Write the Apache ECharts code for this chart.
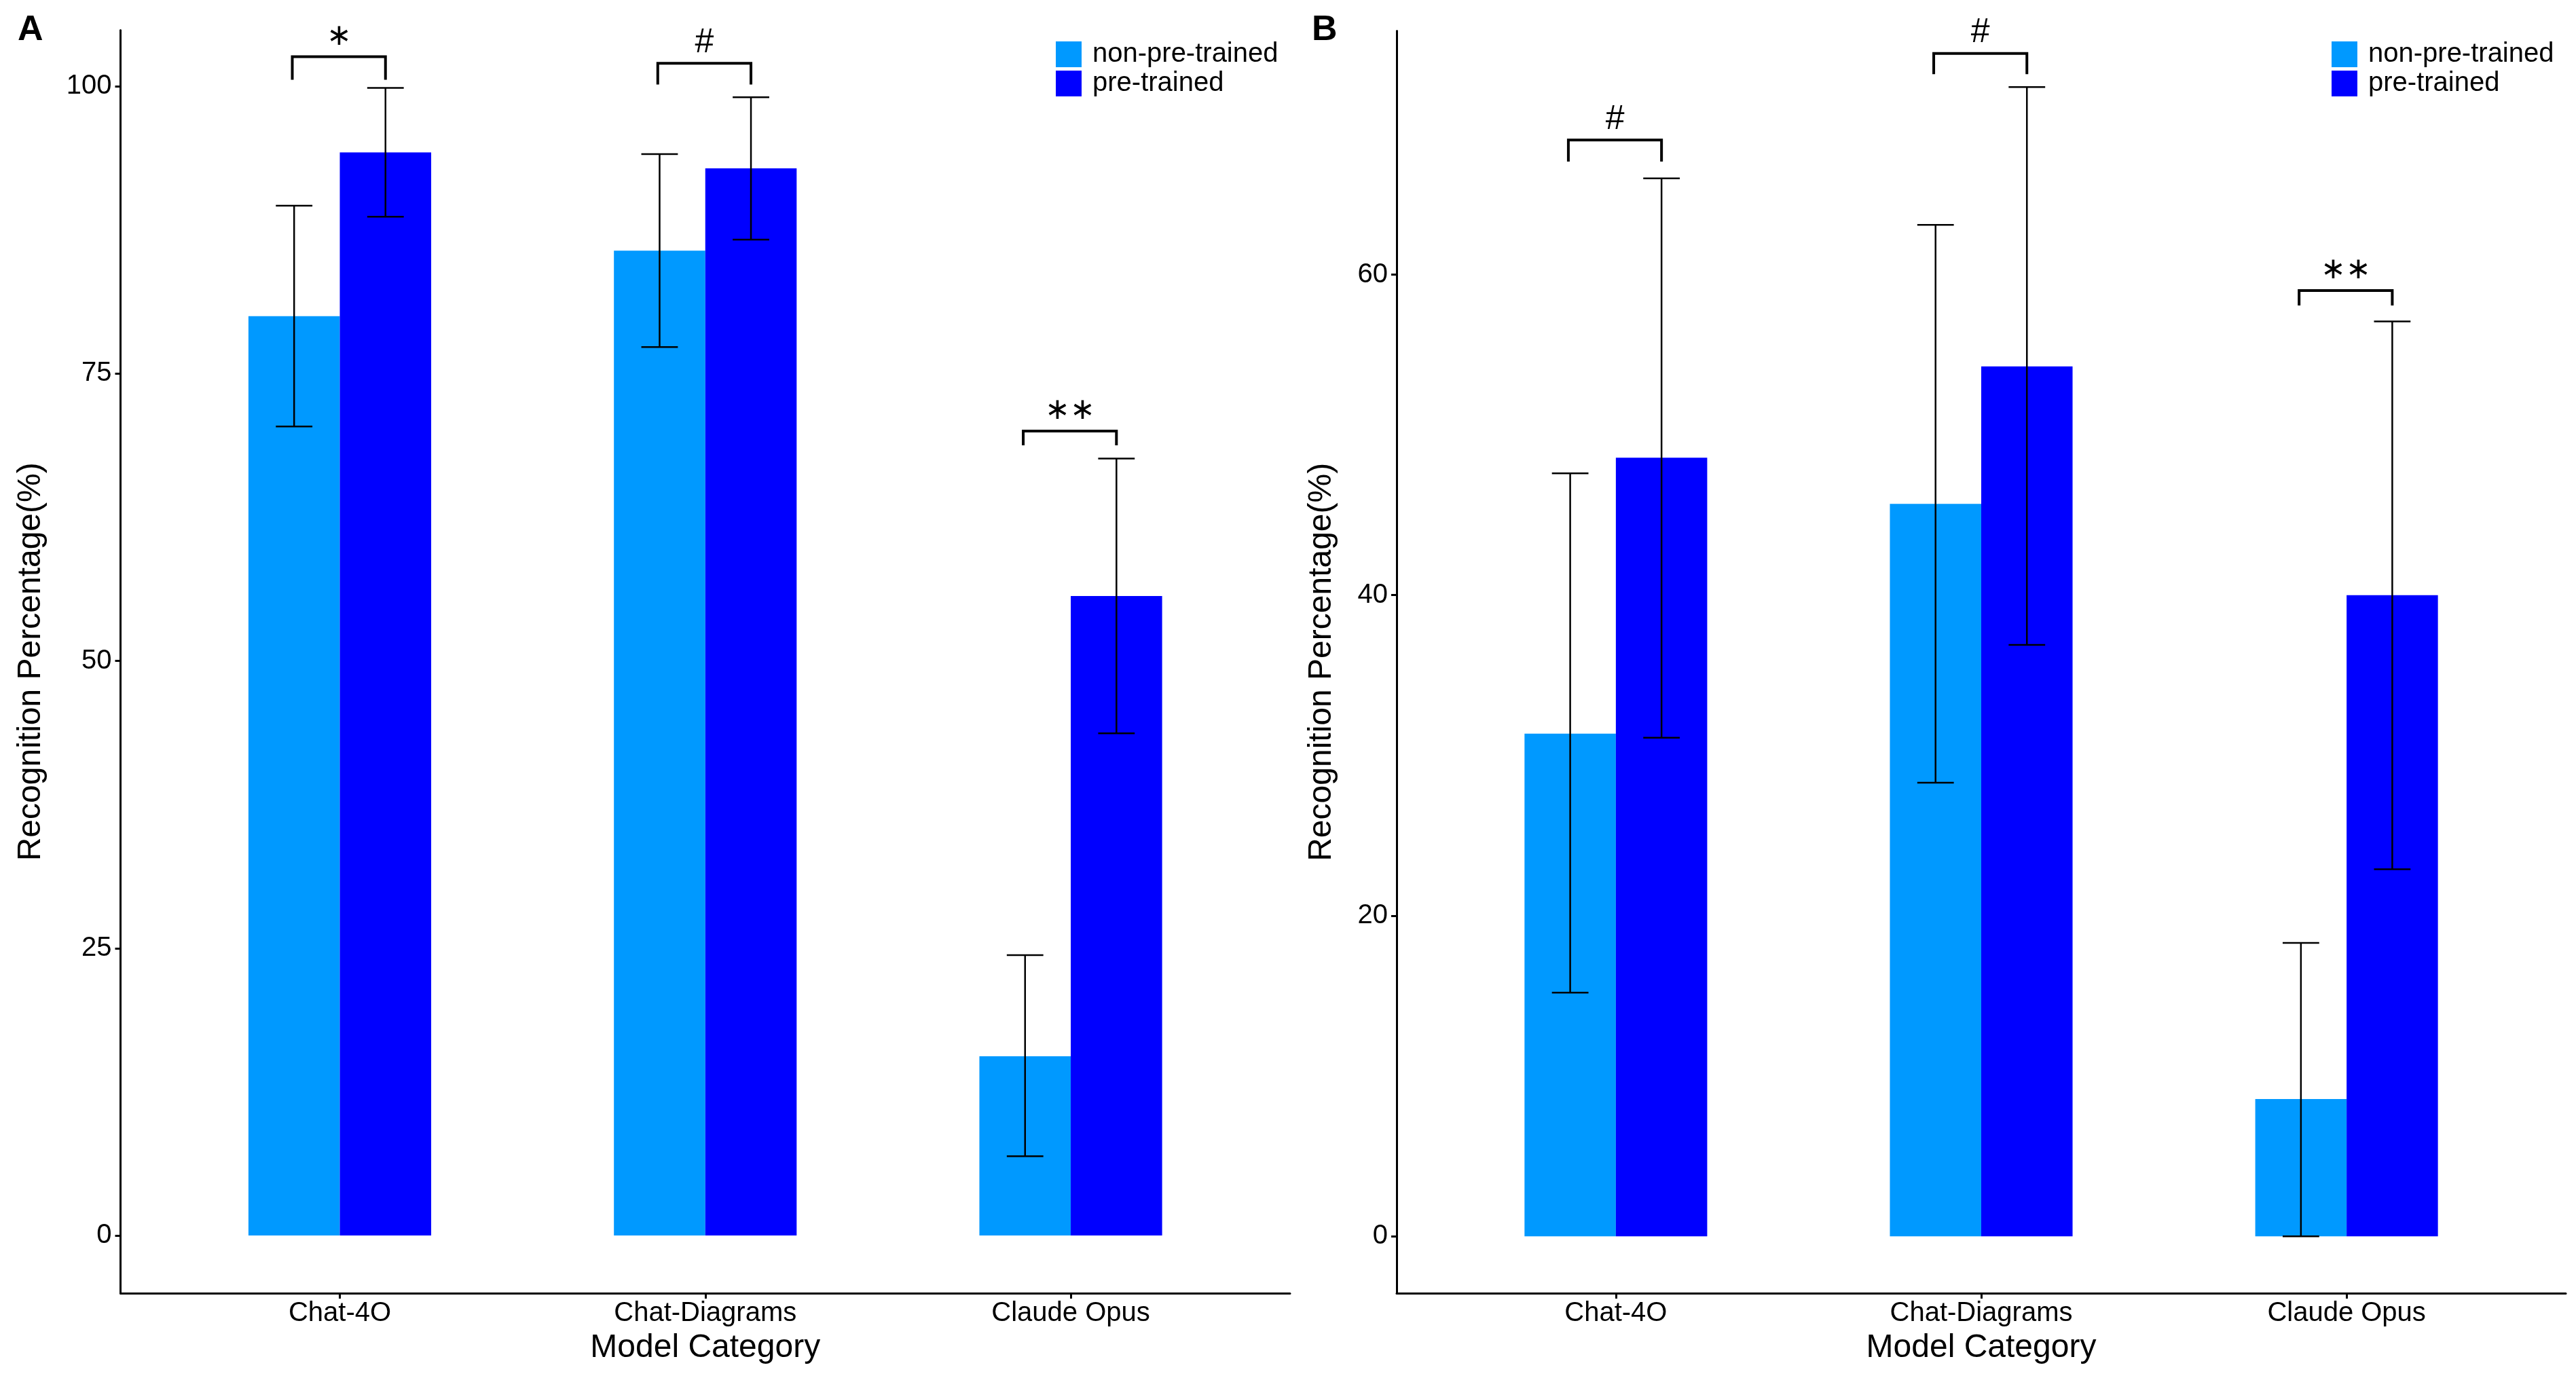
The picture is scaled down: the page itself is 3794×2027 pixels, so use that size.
<!DOCTYPE html>
<html>
<head>
<meta charset="utf-8">
<script src="https://cdn.jsdelivr.net/npm/echarts@6/dist/echarts.min.js"></script>
<style>
html, body { margin: 0; padding: 0; background: #fff; }
#chart { width: 3794px; height: 2027px; }
</style>
</head>
<body>
<div id="chart"></div>
<script>
var categories = ['Chat-4O', 'Chat-Diagrams', 'Claude Opus'];
var seriesNames = ['non-pre-trained', 'pre-trained'];

// panel A
var nonA = [80.0, 85.7, 15.6];
var nonALow = [70.4, 77.3, 6.9];
var nonAHigh = [89.6, 94.1, 24.4];
var preA = [94.25, 92.85, 55.65];
var preALow = [88.65, 86.65, 43.7];
var preAHigh = [99.85, 99.05, 67.6];
var bracketATop = [102.57, 102.0, 70.0];
var bracketALeg = [100.56, 100.15, 68.75];
var signA = ['\u2217', '#', '\u2217\u2217'];
var ticksA = [0, 25, 50, 75, 100];

// panel B
var nonB = [31.36, 45.7, 8.56];
var nonBLow = [15.2, 28.3, 0];
var nonBHigh = [47.6, 63.1, 18.3];
var preB = [48.57, 54.27, 40.0];
var preBLow = [31.1, 36.9, 22.9];
var preBHigh = [66.0, 71.7, 57.08];
var bracketBTop = [68.4, 73.8, 59.0];
var bracketBLeg = [67.05, 72.5, 58.07];
var signB = ['#', '#', '\u2217\u2217'];
var ticksB = [0, 20, 40, 60];

var catTicks = [1, 2, 3];
var FONT = '"Liberation Sans", Arial, sans-serif';
var lightBlue = '#0099FF';
var darkBlue = '#0000FF';

function rows(mean, low, high) {
	var out = [];
	for (var i = 0; i < mean.length; i++) {
		out.push([i + 1, mean[i], low[i], high[i]]);
	}
	return out;
}

function bracketRows(top, leg) {
	var out = [];
	for (var i = 0; i < top.length; i++) {
		out.push([i + 1, top[i], leg[i]]);
	}
	return out;
}

// bar + error bar, side -1 = left of category, 1 = right
function barItem(side, color) {
	return function (params, api) {
		var cat = api.value(0);
		var x0 = side < 0 ? cat - 0.25 : cat;
		var p0 = api.coord([x0, api.value(1)]);
		var p1 = api.coord([x0 + 0.25, 0]);
		var xc = api.coord([x0 + 0.125, 0])[0];
		var lo = api.coord([cat, api.value(2)])[1];
		var hi = api.coord([cat, api.value(3)])[1];
		var half = api.size([0.05, 0])[0];
		var line = { stroke: '#000', lineWidth: 2.5 };
		return {
			type: 'group',
			children: [
				{ type: 'rect', shape: { x: p0[0], y: p0[1], width: p1[0] - p0[0], height: p1[1] - p0[1] }, style: { fill: color } },
				{ type: 'line', shape: { x1: xc, y1: lo, x2: xc, y2: hi }, style: line },
				{ type: 'line', shape: { x1: xc - half, y1: lo, x2: xc + half, y2: lo }, style: line },
				{ type: 'line', shape: { x1: xc - half, y1: hi, x2: xc + half, y2: hi }, style: line }
			]
		};
	};
}

function bracketItem(signs) {
	return function (params, api) {
		var cat = api.value(0);
		var l = api.coord([cat - 0.13, api.value(1)]);
		var r = api.coord([cat + 0.125, api.value(1)]);
		var bottom = api.coord([cat, api.value(2)])[1];
		var sign = signs[params.dataIndex];
		var size = sign === '#' ? 50 : 44;
		return {
			type: 'group',
			children: [
				{
					type: 'polyline',
					shape: { points: [[l[0], bottom], [l[0], l[1]], [r[0], l[1]], [r[0], bottom]] },
					style: { stroke: '#000', lineWidth: 4, fill: null, lineJoin: 'miter' }
				},
				{
					type: 'text',
					style: {
						text: sign,
						x: (l[0] + r[0]) / 2, y: l[1] - 30,
						align: 'center', verticalAlign: 'middle',
						font: size + 'px ' + FONT, fill: '#000'
					}
				}
			]
		};
	};
}

function xAxisFor(gridIndex) {
	return {
		gridIndex: gridIndex, type: 'value', min: 0.4, max: 3.6,
		splitLine: { show: false },
		axisLine: { show: true, onZero: false, lineStyle: { color: '#000', width: 3 } },
		axisTick: { show: true, length: 8, lineStyle: { color: '#000', width: 3 }, customValues: catTicks },
		axisLabel: {
			customValues: catTicks, margin: 10,
			formatter: function (v) { return categories[Math.round(v) - 1]; },
			fontSize: 40, color: '#000', fontFamily: FONT
		},
		name: 'Model Category', nameLocation: 'middle', nameGap: 57,
		nameTextStyle: { fontSize: 48, color: '#000', fontFamily: FONT }
	};
}

function yAxisFor(gridIndex, min, max, ticks, gap) {
	return {
		gridIndex: gridIndex, type: 'value', min: min, max: max,
		splitLine: { show: false },
		axisLine: { show: true, onZero: false, lineStyle: { color: '#000', width: 3 } },
		axisTick: { show: true, length: 8, lineStyle: { color: '#000', width: 3 }, customValues: ticks },
		axisLabel: { customValues: ticks, margin: 13, fontSize: 40, color: '#000', fontFamily: FONT },
		name: 'Recognition Percentage(%)', nameLocation: 'middle', nameGap: gap,
		nameMoveOverlap: false,
		nameTextStyle: { fontSize: 48, color: '#000', fontFamily: FONT }
	};
}

function legendAt(left) {
	return {
		data: seriesNames, orient: 'vertical', left: left, top: 60,
		padding: 0, itemWidth: 38, itemHeight: 38, itemGap: 3, icon: 'rect',
		selectedMode: false,
		textStyle: { fontSize: 40, color: '#000', fontFamily: FONT, padding: [0, 0, 0, 11] }
	};
}

var chart = echarts.init(document.getElementById('chart'));
var option = {
	animation: false,
	backgroundColor: '#fff',
	grid: [
		{ left: 177.5, top: 44.6, width: 1722.5, height: 1860.4, outerBoundsMode: 'none' },
		{ left: 2057, top: 45.6, width: 1722, height: 1859.4, outerBoundsMode: 'none' }
	],
	xAxis: [xAxisFor(0), xAxisFor(1)],
	yAxis: [
		yAxisFor(0, -5.02, 104.87, ticksA, 108),
		yAxisFor(1, -3.55, 75.2, ticksB, 86)
	],
	legend: [legendAt(1555), legendAt(3434)],
	graphic: [
		{ type: 'text', left: 26, top: 19, style: { text: 'A', font: 'bold 52px ' + FONT, fill: '#000' } },
		{ type: 'text', left: 1932, top: 19, style: { text: 'B', font: 'bold 52px ' + FONT, fill: '#000' } }
	],
	series: [
		{ type: 'custom', name: seriesNames[0], xAxisIndex: 0, yAxisIndex: 0, itemStyle: { color: lightBlue },
			renderItem: barItem(-1, lightBlue), data: rows(nonA, nonALow, nonAHigh) },
		{ type: 'custom', name: seriesNames[1], xAxisIndex: 0, yAxisIndex: 0, itemStyle: { color: darkBlue },
			renderItem: barItem(1, darkBlue), data: rows(preA, preALow, preAHigh) },
		{ type: 'custom', xAxisIndex: 0, yAxisIndex: 0,
			renderItem: bracketItem(signA), data: bracketRows(bracketATop, bracketALeg) },
		{ type: 'custom', name: seriesNames[0], xAxisIndex: 1, yAxisIndex: 1, itemStyle: { color: lightBlue },
			renderItem: barItem(-1, lightBlue), data: rows(nonB, nonBLow, nonBHigh) },
		{ type: 'custom', name: seriesNames[1], xAxisIndex: 1, yAxisIndex: 1, itemStyle: { color: darkBlue },
			renderItem: barItem(1, darkBlue), data: rows(preB, preBLow, preBHigh) },
		{ type: 'custom', xAxisIndex: 1, yAxisIndex: 1,
			renderItem: bracketItem(signB), data: bracketRows(bracketBTop, bracketBLeg) }
	]
};
chart.setOption(option);
</script>
</body>
</html>
